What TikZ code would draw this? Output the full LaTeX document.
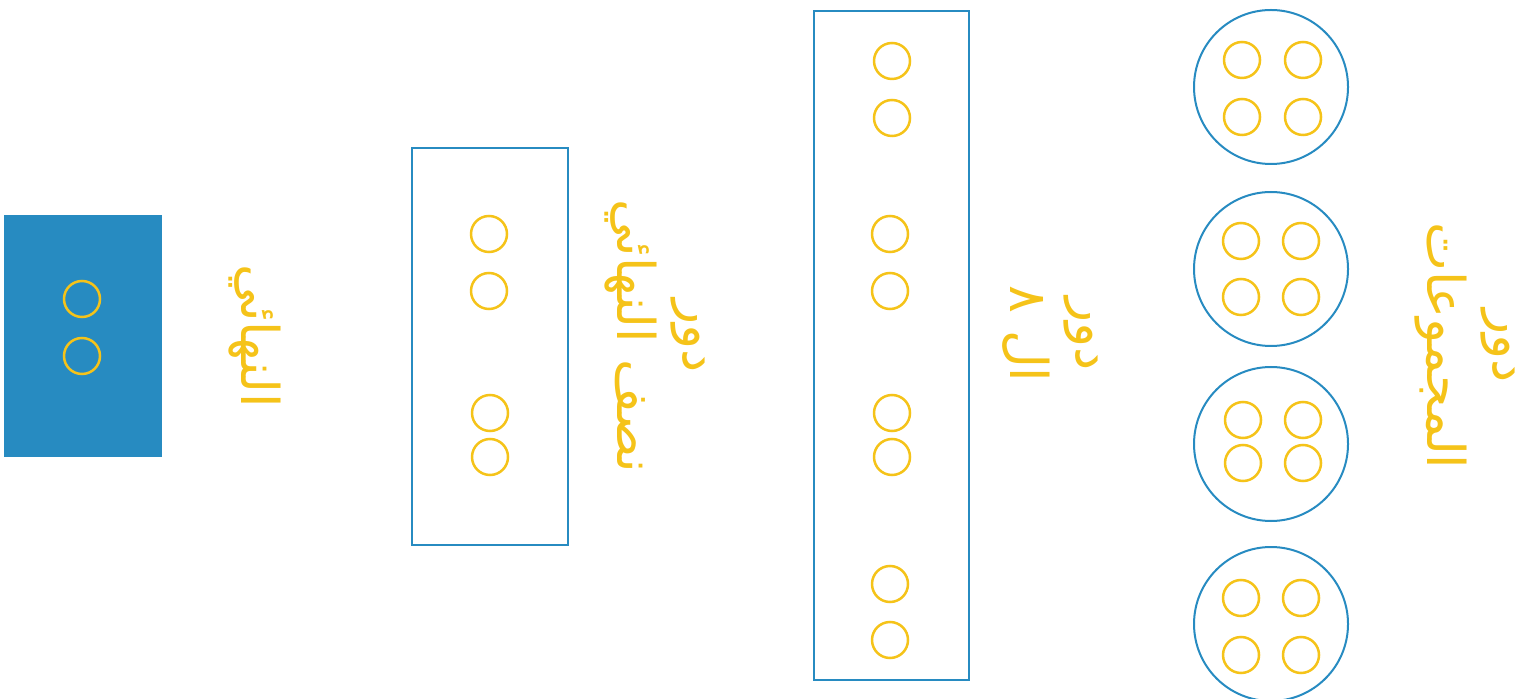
\documentclass[tikz,border=0pt]{standalone}
\usepackage{fontspec}
\usepackage{xcolor}
\usetikzlibrary{positioning}
\newfontfamily\arabicfont[Script=Arabic]{DejaVu Sans}
\TeXXeTstate=1
\definecolor{boxblue}{RGB}{39,139,193}
\definecolor{teamyellow}{RGB}{245,195,25}

\begin{document}
\begin{tikzpicture}[x=0.5pt,y=-0.5pt]
  \tikzstyle{round box}=[draw=boxblue,line width=1pt,inner sep=0pt,minimum width=78pt]
  \tikzstyle{group}=[circle,draw=boxblue,line width=1pt,inner sep=0pt,minimum size=77pt]
  \tikzstyle{team}=[circle,draw=teamyellow,line width=1.25pt,inner sep=0pt,minimum size=18pt]
  \tikzstyle{round label}=[rotate=-90,text=teamyellow,align=center,inner sep=0pt,
    font=\arabicfont\fontsize{26}{33}\selectfont]
  \useasboundingbox (0,0) rectangle (1524,699);

  % final
  \node[round box,fill=boxblue,minimum height=120pt](final) at (83,336){};
  \node[team](f1) at (82,299){};
  \node[team](f2) at (82,356){};
  \node[round label](final label) at (255,336){\beginR النهائي\endR};

  % semi final
  \node[round box,minimum height=198.5pt](semi) at (490,346.5){};
  \node[team](s1) at (489,234){};
  \node[team](s2) at (489,291){};
  \node[team](s3) at (490,413){};
  \node[team](s4) at (490,457){};
  \node[round label](semi label) at (655,336){\beginR دور\endR\\\beginR نصف النهائي\endR};

  % round of 8
  \node[round box,minimum width=77.5pt,minimum height=334.5pt](quarter) at (891.5,345.5){};
  \foreach \i/\x/\y in {1/892/61,2/892/118,3/890/234,4/890/291,5/892/413,6/892/457,7/890/584,8/890/640}
    \node[team](q\i) at (\x,\y){};
  \node[round label](quarter label) at (1050,334){\beginR دور\endR\\\beginR ال ٨\endR};

  % groups
  \node[group](g1) at (1271,87){};
  \node[group](g2) at (1271,269){};
  \node[group](g3) at (1271,444){};
  \node[group](g4) at (1271,624){};
  \foreach \g/\xa/\xb/\ya/\yb in {1/1242/1303/60/117,2/1241/1301/241/297,3/1243/1303/420/463,4/1241/1301/598/655}{
    \node[team](g\g a) at (\xa,\ya){};
    \node[team](g\g b) at (\xb,\ya){};
    \node[team](g\g c) at (\xa,\yb){};
    \node[team](g\g d) at (\xb,\yb){};
  }
  \node[round label](groups label) at (1465,346){\beginR دور\endR\\\beginR المجموعات\endR};
\end{tikzpicture}
\end{document}
